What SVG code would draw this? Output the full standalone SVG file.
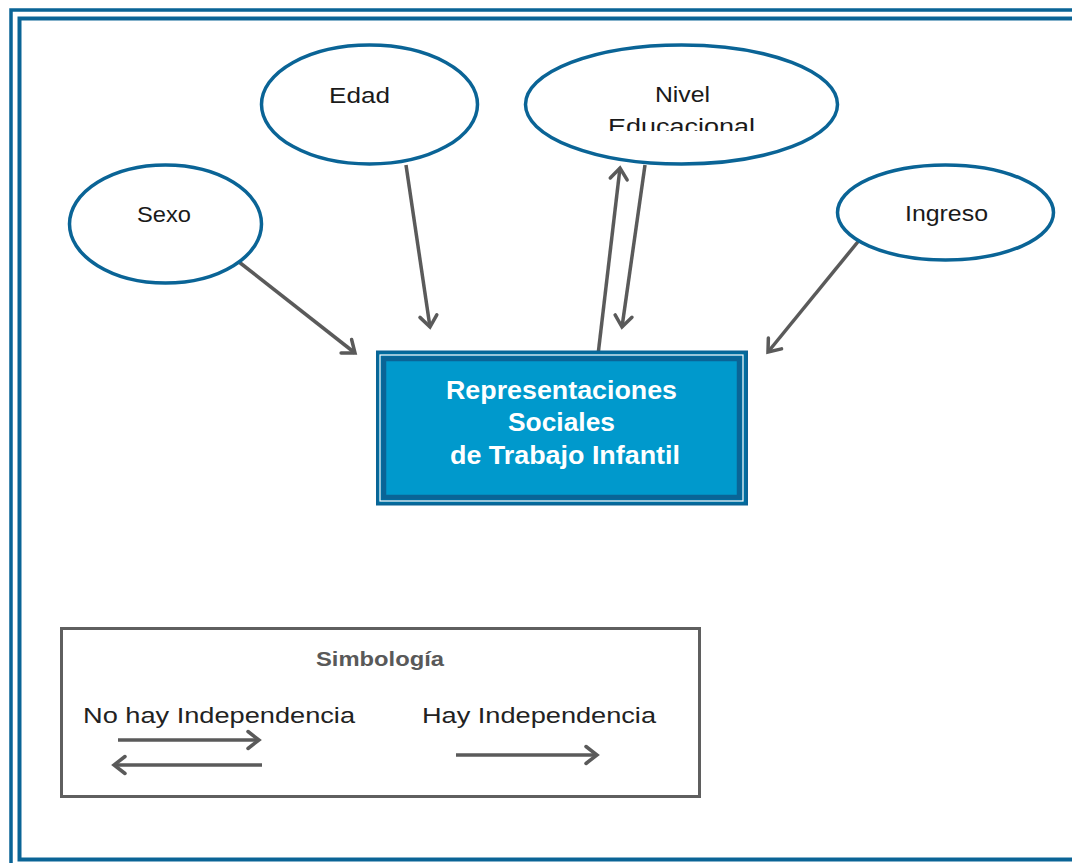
<svg xmlns="http://www.w3.org/2000/svg" width="1072" height="863" viewBox="0 0 1072 863">
<style>
.frame{fill:none;stroke:#0a6496}
.ell{fill:#fff;stroke:#0a6496;stroke-width:3.5}
.lbl{font-family:"Liberation Sans",Arial,sans-serif;font-size:22px;fill:#1a1a1a}
.conn{fill:none;stroke:#5a5a5a;stroke-width:3.5;marker-end:url(#arr)}
.main{font-family:"Liberation Sans",Arial,sans-serif;font-size:25px;font-weight:bold;fill:#fff}
.leg{font-family:"Liberation Sans",Arial,sans-serif;font-size:22px;fill:#222}
</style>
<defs>
<marker id="arr" markerUnits="userSpaceOnUse" markerWidth="18" markerHeight="18" viewBox="0 0 18 18" refX="15" refY="9" orient="auto" overflow="visible">
<path d="M4,0.5 L15,9 L4,17.5" fill="none" stroke="#5a5a5a" stroke-width="3.5" stroke-linecap="round" stroke-linejoin="miter"/>
</marker>
<clipPath id="clipNivel"><rect x="520" y="40" width="330" height="91"/></clipPath>
</defs>
<rect width="1072" height="863" fill="#fff"/>
<g id="frame">
<rect class="frame" x="11" y="10" width="1080" height="870" stroke-width="3.5"/>
<rect class="frame" x="19.5" y="18.5" width="1070" height="841" stroke-width="4"/>
</g>
<g id="connectors">
<line class="conn" x1="239" y1="262" x2="355" y2="353"/>
<line class="conn" x1="406" y1="165" x2="430" y2="327"/>
<line class="conn" x1="598" y1="355" x2="620" y2="168"/>
<line class="conn" x1="645" y1="165" x2="622" y2="327"/>
<line class="conn" x1="861" y1="238" x2="768" y2="352"/>
</g>
<g id="node-sexo">
<ellipse class="ell" cx="165.5" cy="224" rx="96" ry="59"/>
<text class="lbl" x="137" y="222" textLength="54" lengthAdjust="spacingAndGlyphs">Sexo</text>
</g>
<g id="node-edad">
<ellipse class="ell" cx="369.5" cy="104.5" rx="108" ry="59.5"/>
<text class="lbl" x="329" y="103" textLength="61" lengthAdjust="spacingAndGlyphs">Edad</text>
</g>
<g id="node-nivel">
<ellipse class="ell" cx="681.5" cy="104.5" rx="156" ry="59.5"/>
<g clip-path="url(#clipNivel)">
<text class="lbl" x="655" y="102" textLength="55" lengthAdjust="spacingAndGlyphs">Nivel</text>
<text class="lbl" x="608" y="134" textLength="147" lengthAdjust="spacingAndGlyphs">Educacional</text>
</g>
</g>
<g id="node-ingreso">
<ellipse class="ell" cx="945.5" cy="212.5" rx="108" ry="47.5"/>
<text class="lbl" x="905" y="221" textLength="83" lengthAdjust="spacingAndGlyphs">Ingreso</text>
</g>
<g id="node-main">
<rect x="377" y="351.5" width="370" height="153" fill="#006ea0" stroke="#0a6496" stroke-width="2"/>
<rect x="380" y="355" width="363" height="146" fill="none" stroke="#fff" stroke-width="1.2"/>
<rect x="384" y="359" width="355" height="138" fill="#0099cc" stroke="#0a6496" stroke-width="4.5"/>
<text class="main" x="446" y="399" textLength="231" lengthAdjust="spacingAndGlyphs">Representaciones</text>
<text class="main" x="508" y="431" textLength="107" lengthAdjust="spacingAndGlyphs">Sociales</text>
<text class="main" x="450" y="464" textLength="230" lengthAdjust="spacingAndGlyphs">de Trabajo Infantil</text>
</g>
<g id="legend">
<rect x="61.5" y="628.5" width="638" height="168" fill="#fff" stroke="#5f5f5f" stroke-width="3"/>
<text x="316" y="666" font-family="'Liberation Sans',Arial,sans-serif" font-size="20" font-weight="bold" fill="#595959" textLength="128" lengthAdjust="spacingAndGlyphs">Simbología</text>
<text class="leg" x="83" y="723" textLength="272" lengthAdjust="spacingAndGlyphs">No hay Independencia</text>
<text class="leg" x="422" y="723" textLength="234" lengthAdjust="spacingAndGlyphs">Hay Independencia</text>
<line class="conn" x1="118" y1="740" x2="259" y2="740"/>
<line class="conn" x1="262" y1="765" x2="114" y2="765"/>
<line class="conn" x1="456" y1="755" x2="597" y2="755"/>
</g>
</svg>
